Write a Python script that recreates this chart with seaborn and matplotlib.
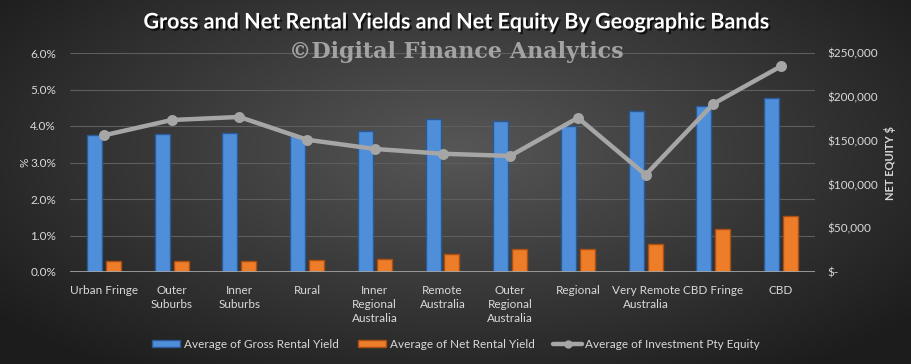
import numpy as np
import pandas as pd
import matplotlib
matplotlib.use("Agg")
import matplotlib.pyplot as plt
import matplotlib.patheffects as pe
from matplotlib.lines import Line2D
from matplotlib.patches import Patch
import seaborn as sns

categories = ["Urban Fringe", "Outer\nSuburbs", "Inner\nSuburbs", "Rural",
              "Inner\nRegional\nAustralia", "Remote\nAustralia", "Outer\nRegional\nAustralia",
              "Regional", "Very Remote\nAustralia", "CBD Fringe", "CBD"]
gross_yield = [3.75, 3.77, 3.80, 3.72, 3.85, 4.18, 4.15, 4.00, 4.42, 4.55, 4.77]
net_yield = [0.30, 0.30, 0.30, 0.33, 0.35, 0.48, 0.62, 0.62, 0.78, 1.18, 1.53]
equity = [156000, 173500, 177000, 151000, 140500, 135000, 132500, 176000, 111000, 192000, 235000]
left_ticks = [0, 1, 2, 3, 4, 5, 6]
right_ticks = [0, 50000, 100000, 150000, 200000, 250000]
right_ticklabels = ["$-", "$50,000", "$100,000", "$150,000", "$200,000", "$250,000"]

sns.set_theme(style="dark")
plt.rcParams["font.family"] = ["Lato", "DejaVu Sans"]

txt = "#d9d9d9"
blue, blue_edge = "#4f8fda", "#2a5a96"
orange, orange_edge = "#ee7d2a", "#a94f12"
line_col = "#a6a6a6"

fig = plt.figure(figsize=(9.12, 3.64), dpi=100)

# background gradient
bg = fig.add_axes([0, 0, 1, 1], zorder=-10)
yy, xx = np.mgrid[0:364, 0:912]
d = np.sqrt(((xx - 456) / 560.0) ** 2 + ((yy - 150) / 260.0) ** 2)
val = np.clip(0.34 - 0.22 * d, 0.11, 0.36)
bg.imshow(np.dstack([val, val, val]), aspect="auto", extent=[0, 1, 0, 1])
bg.set_axis_off()

ax = fig.add_axes([70 / 912, 1 - 272 / 364, 745 / 912, 219 / 364])
ax.set_facecolor("none")

df = pd.DataFrame({
    "Band": categories * 2,
    "Yield": gross_yield + net_yield,
    "Series": ["Average of Gross Rental Yield"] * len(categories)
              + ["Average of Net Rental Yield"] * len(categories),
})
sns.barplot(data=df, x="Band", y="Yield", hue="Series", ax=ax,
            palette=[blue, orange], width=0.56, gap=0.21, legend=False,
            errorbar=None, saturation=1, zorder=2)
for p in ax.patches:
    fc = p.get_facecolor()
    if abs(fc[0] - matplotlib.colors.to_rgb(blue)[0]) < 0.05:
        p.set_edgecolor(blue_edge)
    else:
        p.set_edgecolor(orange_edge)
    p.set_linewidth(1.0)

ax.set_ylim(0, 6)
ax.set_yticks(left_ticks)
ax.set_yticklabels([f"{v:.1f}%" for v in left_ticks], color=txt, fontsize=8.5)
ax.set_xlim(-0.5, len(categories) - 0.5)
ax.set_xticks(range(len(categories)))
ax.set_xticklabels(categories, color=txt, fontsize=8.5, linespacing=1.35)
ax.tick_params(axis="x", length=0, pad=9)
ax.tick_params(axis="y", length=0, pad=10)
ax.set_xlabel("")
ax.set_ylabel("%", color=txt, fontsize=8.5, labelpad=0)
ax.grid(axis="y", color="#5e5e5e", linewidth=0.8, zorder=0)
ax.grid(axis="x", visible=False)
for s in ax.spines.values():
    s.set_visible(False)
ax.axhline(0, color="#a8a8a8", linewidth=1.2, zorder=3)

ax2 = ax.twinx()
eq_df = pd.DataFrame({"Band": categories, "Equity": equity})
sns.pointplot(data=eq_df, x="Band", y="Equity", ax=ax2, color=line_col,
              markers="o", markersize=5.5, linewidth=3.2, errorbar=None,
              native_scale=False)
ax2.set_xlim(-0.5, len(categories) - 0.5)
ax2.set_ylim(0, 250000)
ax2.set_yticks(right_ticks)
ax2.set_yticklabels(right_ticklabels, color=txt, fontsize=8.5)
ax2.tick_params(axis="y", length=0, pad=9)
ax2.set_ylabel("NET EQUITY $", color=txt, fontsize=8, fontweight="bold", labelpad=4)
ax2.set_xlabel("")
ax2.grid(False)
for s in ax2.spines.values():
    s.set_visible(False)

fig.text(0.5, 1 - 22 / 364, "Gross and Net Rental Yields and Net Equity By Geographic Bands",
         ha="center", va="center", color="white", fontsize=15.5, fontweight="bold",
         path_effects=[pe.withSimplePatchShadow(offset=(1.5, -1.5), shadow_rgbFace="black", alpha=0.7)])
fig.text(0.5, 1 - 52 / 364, "\u00a9Digital Finance Analytics", ha="center", va="center",
         color="#a3a3a3", fontsize=16, fontweight="bold", family=["DejaVu Serif"])

handles = [Patch(facecolor=blue, edgecolor=blue_edge),
           Patch(facecolor=orange, edgecolor=orange_edge),
           Line2D([0], [0], color=line_col, linewidth=3.2, marker="o", markersize=5)]
labels = ["Average of Gross Rental Yield", "Average of Net Rental Yield",
          "Average of Investment Pty Equity"]
leg = fig.legend(handles, labels, loc="center", bbox_to_anchor=(0.5, 1 - 344 / 364),
                 ncol=3, frameon=False, fontsize=8.5, handlelength=2.4, handleheight=0.6,
                 columnspacing=1.6, handletextpad=0.3)
for t in leg.get_texts():
    t.set_color(txt)

fig.savefig("out.png", dpi=100)
